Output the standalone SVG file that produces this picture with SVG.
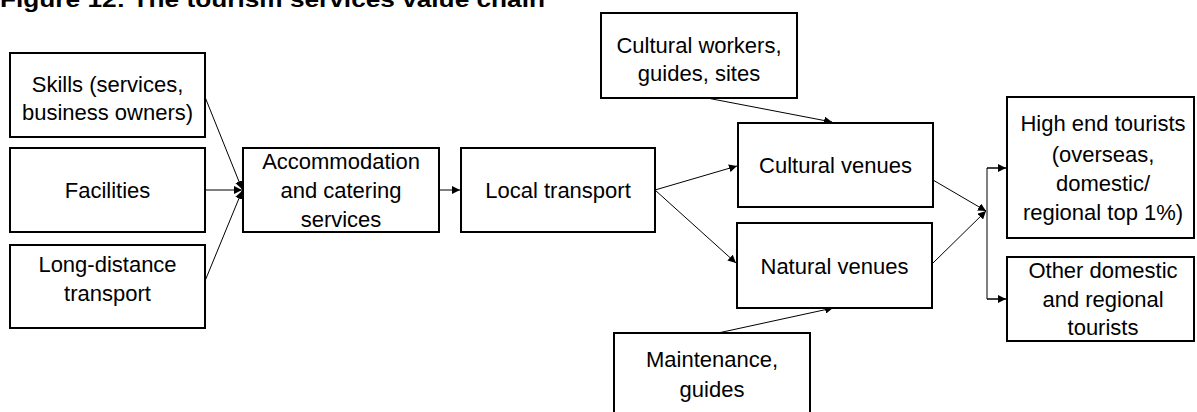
<svg xmlns="http://www.w3.org/2000/svg" width="1197" height="412" viewBox="0 0 1197 412">
<style>
.box{fill:#fff;stroke:#000;stroke-width:2}
.t{font-family:"Liberation Sans",Arial,sans-serif;font-size:22px;fill:#000;text-anchor:middle}
.title{font-family:"Liberation Sans",Arial,sans-serif;font-size:22px;font-weight:bold;fill:#000}
.c{fill:none;stroke:#000;stroke-width:1}
.ca{fill:none;stroke:#000;stroke-width:1;marker-end:url(#ah)}
</style>
<defs>
<marker id="ah" markerUnits="userSpaceOnUse" markerWidth="9" markerHeight="8" refX="8" refY="4" orient="auto">
<path d="M0,0 L8,4 L0,8 z" fill="#000"/>
</marker>
</defs>
<rect width="1197" height="412" fill="#fff"/>
<text class="title" x="0" y="7" textLength="545" lengthAdjust="spacingAndGlyphs">Figure 12: The tourism services value chain</text>
<g id="connectors">
<line class="ca" x1="205" y1="97" x2="242" y2="189"/>
<line class="ca" x1="205" y1="190" x2="242" y2="190"/>
<line class="ca" x1="205" y1="281" x2="242" y2="191"/>
<line class="ca" x1="439" y1="190" x2="460" y2="190"/>
<line class="ca" x1="655" y1="190" x2="737" y2="166"/>
<line class="ca" x1="655" y1="190" x2="736" y2="263"/>
<line class="ca" x1="707" y1="98" x2="832" y2="122"/>
<line class="ca" x1="718" y1="333" x2="833" y2="308"/>
<line class="ca" x1="933" y1="180" x2="986" y2="211"/>
<line class="ca" x1="933" y1="263" x2="986" y2="211"/>
<polyline class="c" points="1006,168 987,168 987,299 1006,299"/>
<line class="ca" x1="987" y1="168" x2="1006" y2="168"/>
<line class="ca" x1="987" y1="299" x2="1006" y2="299"/>
</g>
<g id="skills"><rect class="box" x="10" y="53" width="195" height="84"/><text class="t" x="107.5" y="92">Skills (services,</text><text class="t" x="107.5" y="120">business owners)</text></g>
<g id="facilities"><rect class="box" x="10" y="148" width="195" height="84"/><text class="t" x="107.5" y="198">Facilities</text></g>
<g id="longdistance"><rect class="box" x="10" y="245" width="195" height="83"/><text class="t" x="107.5" y="272">Long-distance</text><text class="t" x="107.5" y="301">transport</text></g>
<g id="accommodation"><rect class="box" x="243" y="148" width="196" height="84"/><text class="t" x="341" y="169">Accommodation</text><text class="t" x="341" y="198">and catering</text><text class="t" x="341" y="227">services</text></g>
<g id="localtransport"><rect class="box" x="461" y="148" width="194" height="84"/><text class="t" x="558" y="198">Local transport</text></g>
<g id="culturalworkers"><rect class="box" x="601" y="13" width="196" height="85"/><text class="t" x="699" y="53">Cultural workers,</text><text class="t" x="699" y="81">guides, sites</text></g>
<g id="culturalvenues"><rect class="box" x="738" y="123" width="195" height="84"/><text class="t" x="835.5" y="173">Cultural venues</text></g>
<g id="naturalvenues"><rect class="box" x="737" y="223" width="195" height="85"/><text class="t" x="834.5" y="274">Natural venues</text></g>
<g id="maintenance"><rect class="box" x="614" y="333" width="196" height="86"/><text class="t" x="712" y="367">Maintenance,</text><text class="t" x="712" y="397">guides</text></g>
<g id="highend"><rect class="box" x="1007" y="97" width="187" height="141"/><text class="t" x="1103" y="131">High end tourists</text><text class="t" x="1103" y="162">(overseas,</text><text class="t" x="1103" y="191">domestic/</text><text class="t" x="1103" y="220">regional top 1%)</text></g>
<g id="otherdomestic"><rect class="box" x="1007" y="257" width="187" height="84"/><text class="t" x="1103" y="278">Other domestic</text><text class="t" x="1103" y="307">and regional</text><text class="t" x="1103" y="335">tourists</text></g>
</svg>
